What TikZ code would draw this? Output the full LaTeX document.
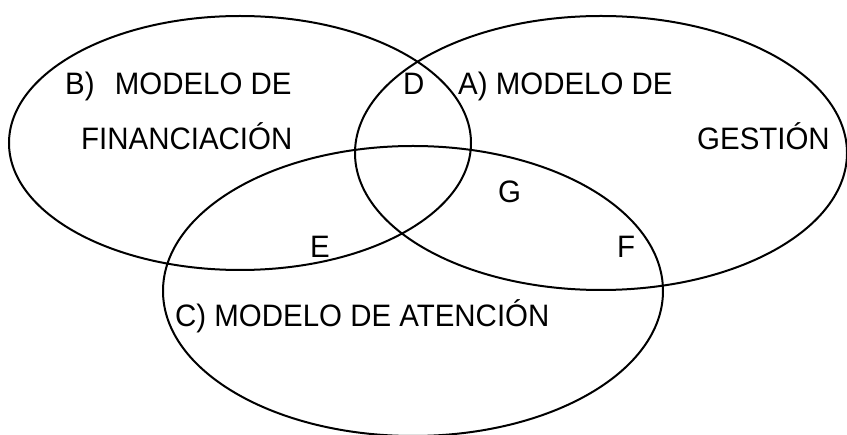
\documentclass[tikz,border=0pt]{standalone}
\usepackage{fontspec}
\setmainfont[FakeStretch=0.95]{Liberation Sans}
\begin{document}
\begin{tikzpicture}[x=1pt,y=-1pt,
  ring/.style={draw=black,line width=2pt},
  lbl/.style={anchor=base west,inner sep=0pt,font=\fontsize{31}{37}\selectfont}]
\useasboundingbox (0,0) rectangle (847,435);
\fill[white] (0,0) rectangle (847,435);
% ellipses
\draw[ring] (240,143) ellipse [x radius=231, y radius=127];
\draw[ring] (601,153) ellipse [x radius=246, y radius=137];
\draw[ring] (413,291) ellipse [x radius=250, y radius=145];
% labels
\node[lbl] (b1) at (65,95) {B)\hspace{12pt} MODELO DE};
\node[lbl] (b2) at (81,150) {FINANCIACIÓN};
\node[lbl] (d) at (403,95) {D};
\node[lbl] (a1) at (458,95) {A) MODELO DE};
\node[lbl] (a2) at (697,150) {GESTIÓN};
\node[lbl] (g) at (498,203) {G};
\node[lbl] (e) at (310,258) {E};
\node[lbl] (f) at (617,258) {F};
\node[lbl] (c) at (175,327) {C) MODELO DE ATENCIÓN};
\end{tikzpicture}
\end{document}
